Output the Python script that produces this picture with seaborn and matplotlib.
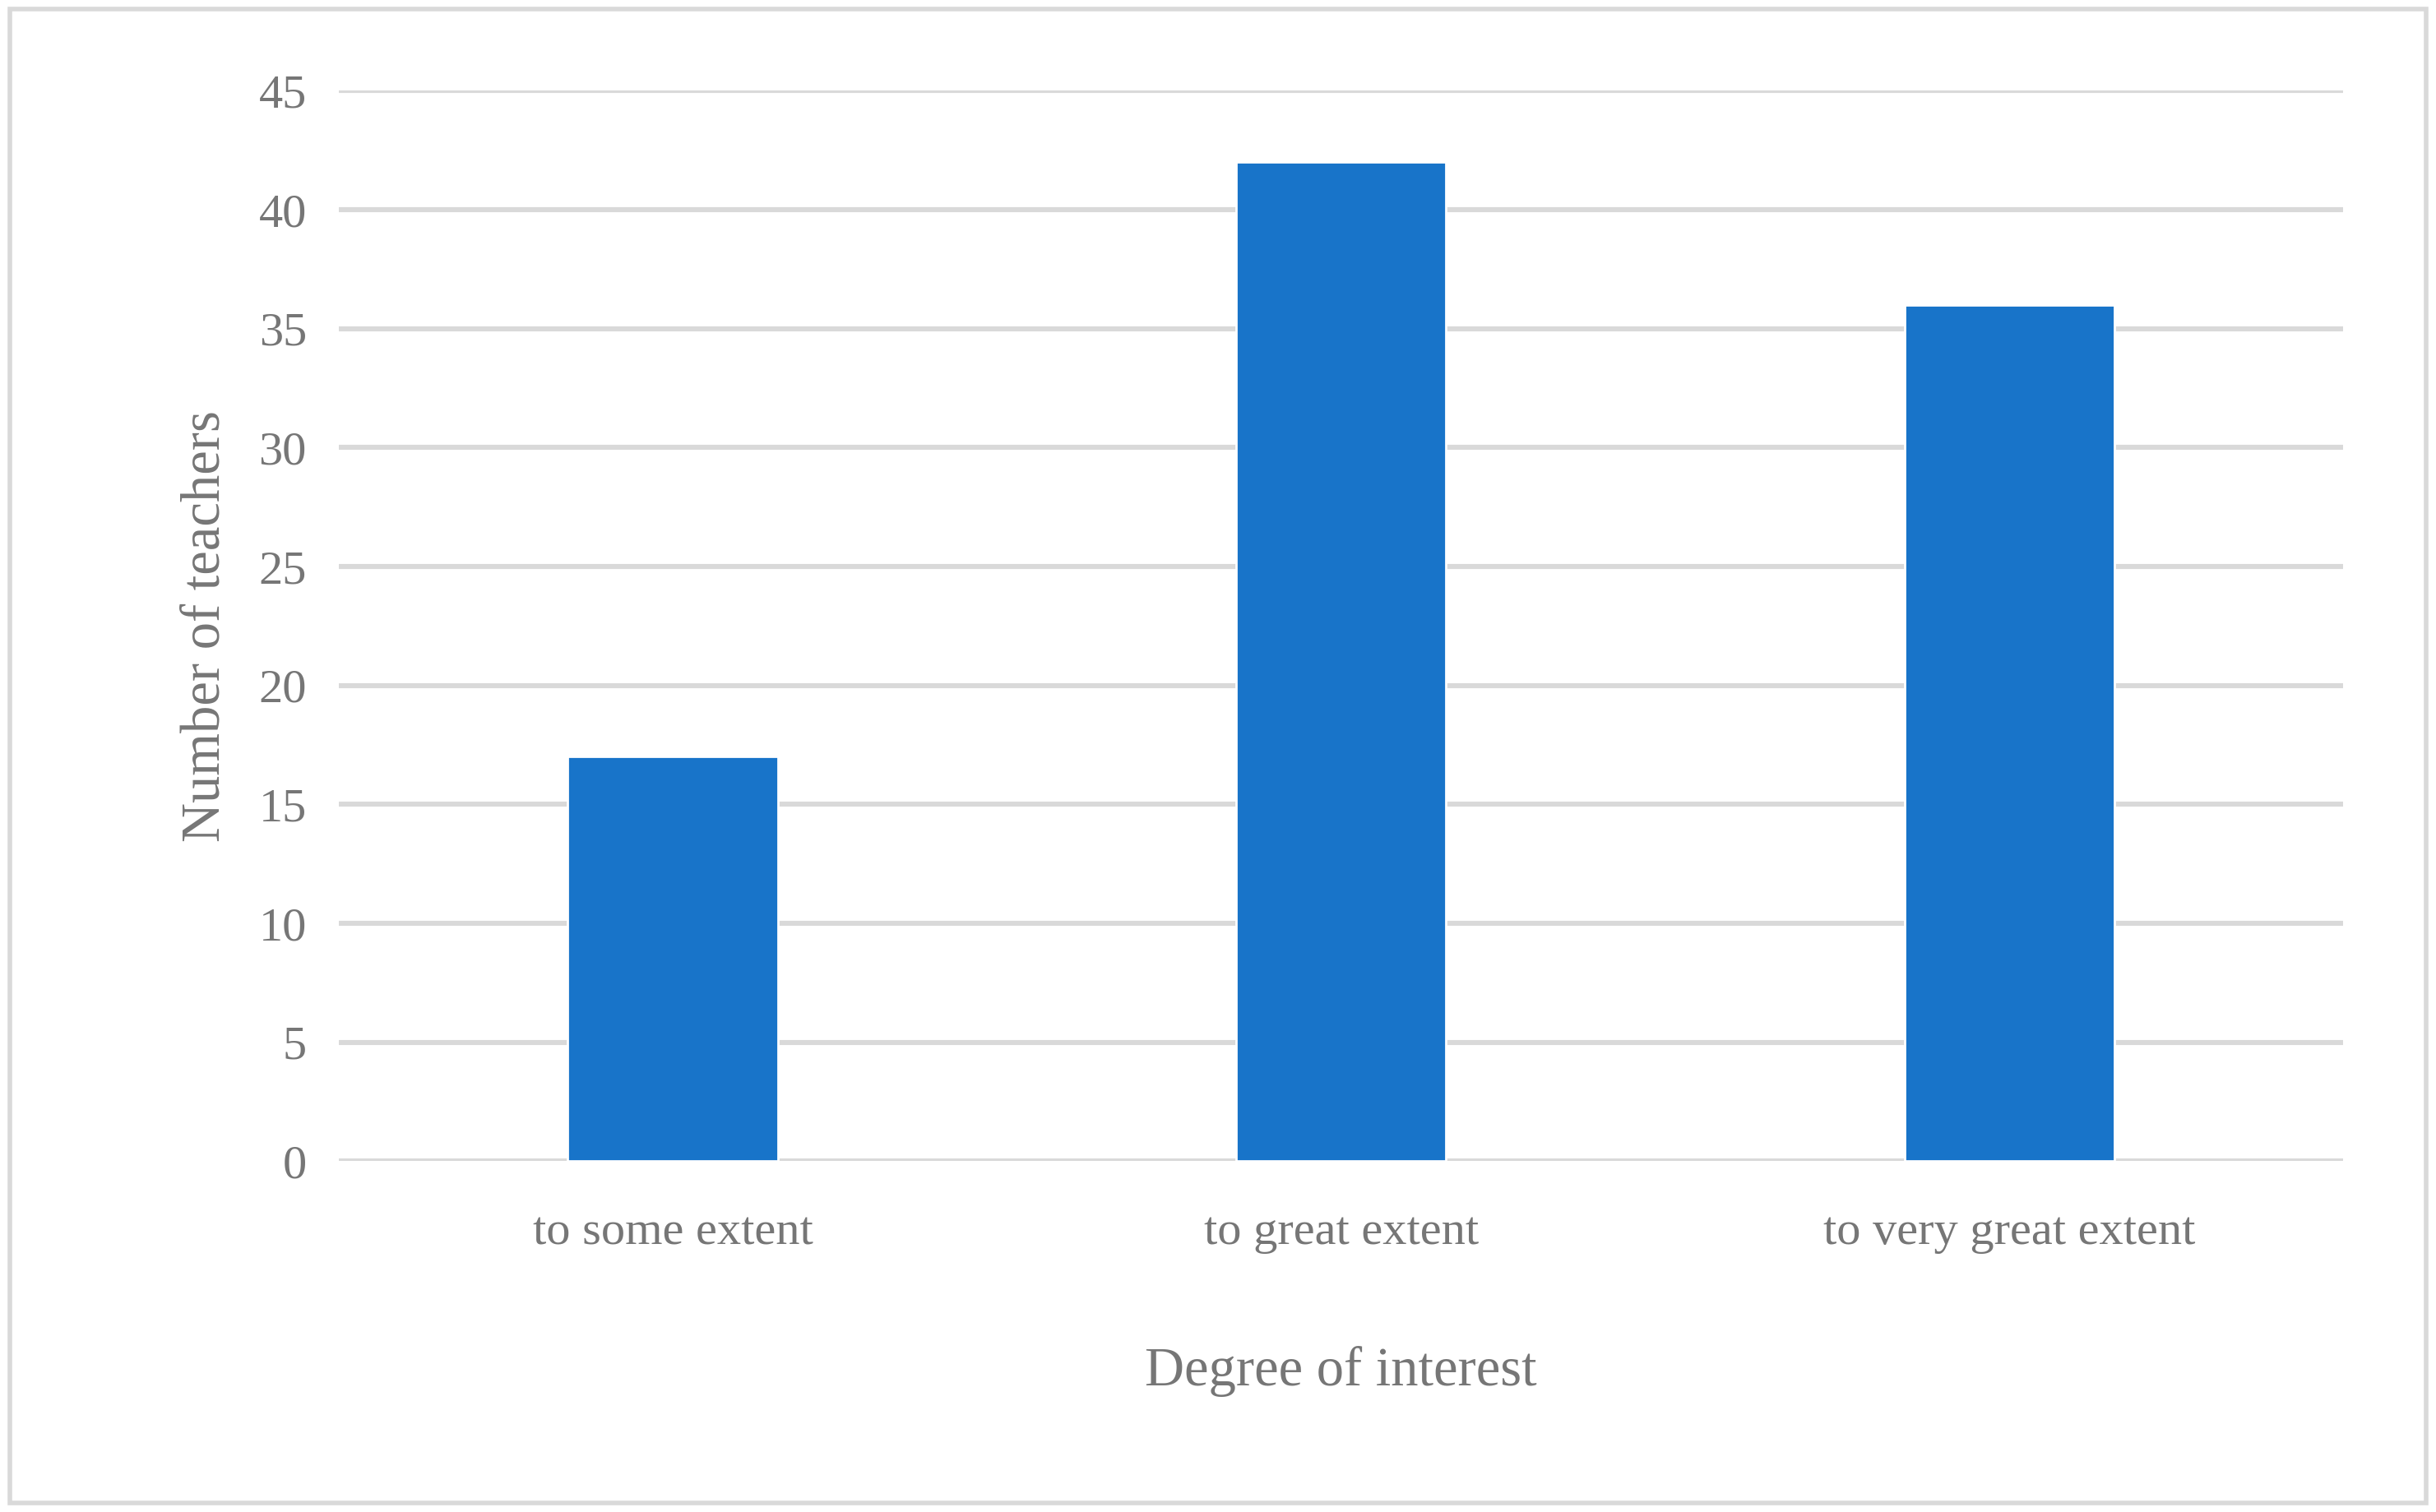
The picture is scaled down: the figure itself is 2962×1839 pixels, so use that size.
import matplotlib
matplotlib.use('Agg')
import matplotlib.pyplot as plt
import seaborn as sns
from matplotlib.patches import Rectangle

categories = ['to some extent', 'to great extent', 'to very great extent']
teachers = [17, 42, 36]
y_ticks = [0, 5, 10, 15, 20, 25, 30, 35, 40, 45]

sns.set_theme(style='white')
plt.rcParams['font.family'] = ['Liberation Serif', 'DejaVu Serif']
gray = '#767676'

fig = plt.figure(figsize=(14.81, 9.195), dpi=200)
ax = fig.add_axes([0.139, 0.232, 0.823, 0.708])
sns.barplot(x=categories, y=teachers, color='#1874C9', width=0.314, saturation=1, ax=ax)

ax.set_ylim(0, 45)
ax.set_yticks(y_ticks)
ax.yaxis.grid(True, color='#d9d9d9', linewidth=2.2)
ax.set_axisbelow(True)
for s in ax.spines.values():
    s.set_visible(False)
ax.tick_params(axis='both', length=0, labelsize=21, labelcolor=gray)
ax.tick_params(axis='x', pad=22)
ax.tick_params(axis='y', pad=14)
ax.set_ylabel('Number of teachers', fontsize=24, color=gray, labelpad=12)
ax.set_xlabel('Degree of interest', fontsize=24, color=gray, labelpad=40)

fig.patches.append(Rectangle((0.004, 0.006), 0.992, 0.988, transform=fig.transFigure,
                             fill=False, edgecolor='#d9d9d9', linewidth=2))
fig.savefig('out.png', dpi=200)
